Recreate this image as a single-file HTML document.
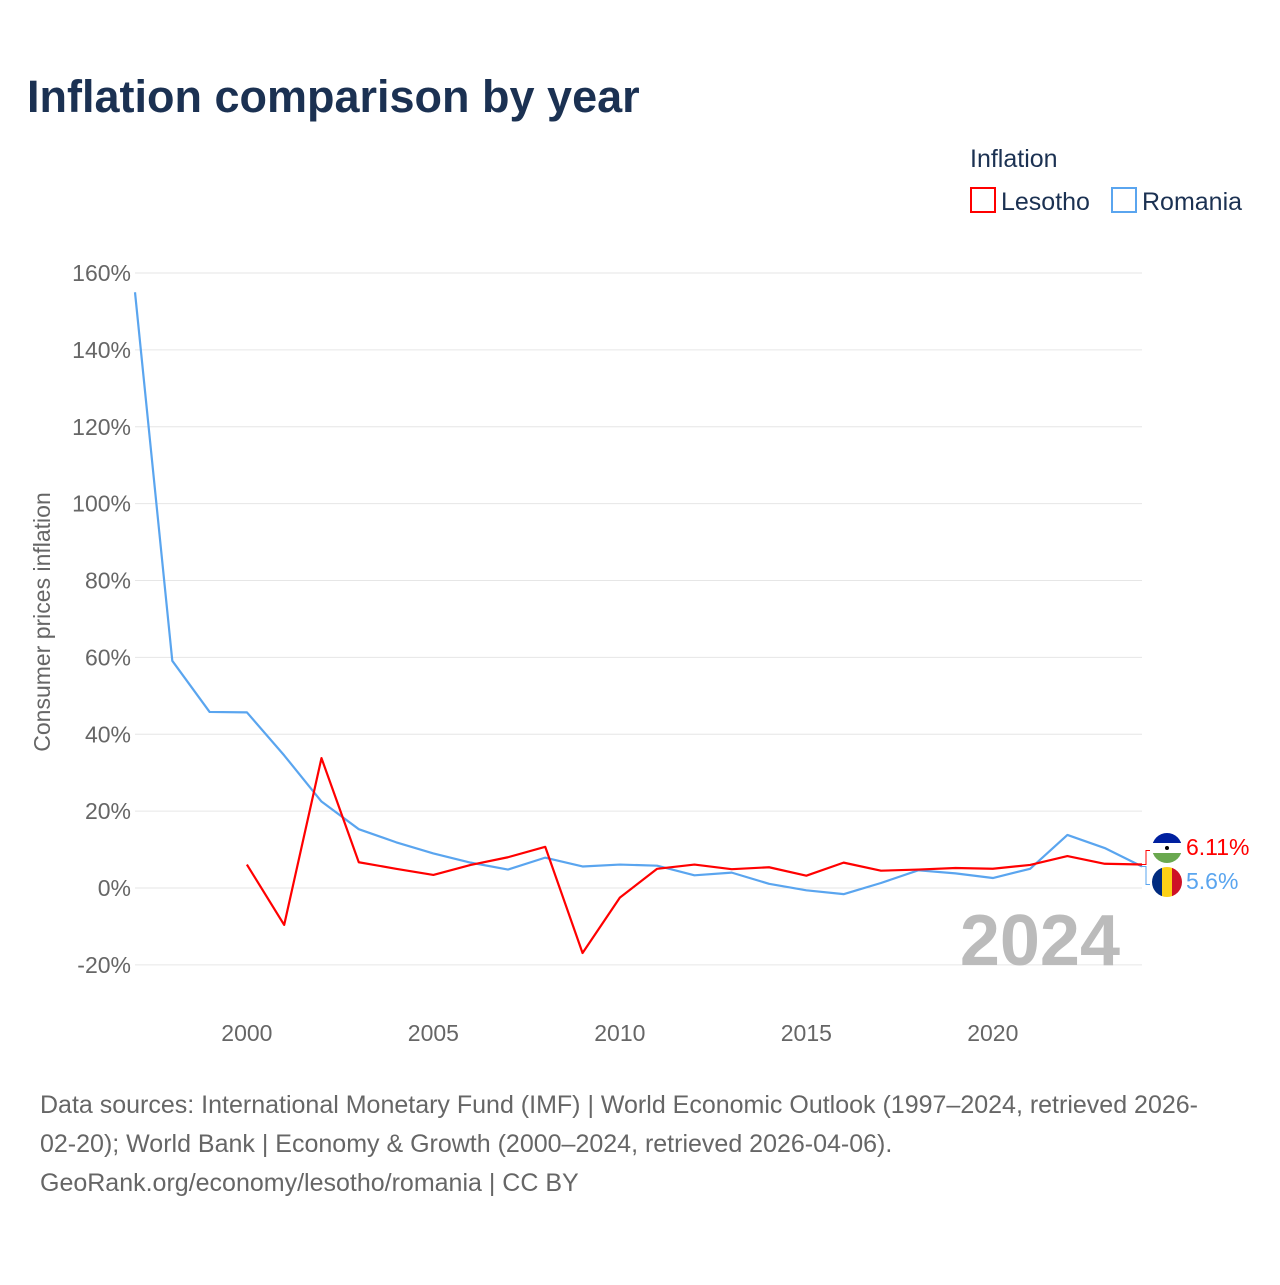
<!DOCTYPE html>
<html><head><meta charset="utf-8"><style>
body{margin:0;background:#fff;font-family:"Liberation Sans",sans-serif;}
svg text{font-family:"Liberation Sans",sans-serif;}
</style></head><body>
<svg id="chart" width="1280" height="1280" viewBox="0 0 1280 1280">
<text x="27" y="112" font-size="45" font-weight="bold" fill="#1b3152">Inflation comparison by year</text>
<text x="970" y="167" font-size="25" fill="#1b3152">Inflation</text>
<g><rect x="971" y="188" width="24" height="24" fill="none" stroke="#f00" stroke-width="2"/><text x="1001" y="210" font-size="25" fill="#1b3152">Lesotho</text></g>
<g><rect x="1112" y="188" width="24" height="24" fill="none" stroke="#5aa5ef" stroke-width="2"/><text x="1142" y="210" font-size="25" fill="#1b3152">Romania</text></g>
<text transform="translate(50,622) rotate(-90)" text-anchor="middle" font-size="23" fill="#666">Consumer prices inflation</text>
<g id="grid"></g><g id="xt"></g>
<text x="1120" y="965" text-anchor="end" font-size="72" font-weight="bold" fill="#bbb">2024</text>
<g id="lines"></g>
<text x="40" y="1113" font-size="25" fill="#666">Data sources: International Monetary Fund (IMF) | World Economic Outlook (1997–2024, retrieved 2026-</text>
<text x="40" y="1152" font-size="25" fill="#666">02-20); World Bank | Economy &amp; Growth (2000–2024, retrieved 2026-04-06).</text>
<text x="40" y="1191" font-size="25" fill="#666">GeoRank.org/economy/lesotho/romania | CC BY</text>
</svg>
<script>
const yTicks=[-20,0,20,40,60,80,100,120,140,160];
const xTicks=[2000,2005,2010,2015,2020];
const romaniaYears=[1997,1998,1999,2000,2001,2002,2003,2004,2005,2006,2007,2008,2009,2010,2011,2012,2013,2014,2015,2016,2017,2018,2019,2020,2021,2022,2023,2024];
const romaniaValues=[155,59.1,45.8,45.7,34.5,22.5,15.3,11.9,9.0,6.6,4.8,7.9,5.6,6.1,5.8,3.3,4.0,1.1,-0.6,-1.6,1.3,4.6,3.8,2.6,5.0,13.8,10.4,5.6];
const lesothoYears=[2000,2001,2002,2003,2004,2005,2006,2007,2008,2009,2010,2011,2012,2013,2014,2015,2016,2017,2018,2019,2020,2021,2022,2023,2024];
const lesothoValues=[6.1,-9.6,33.8,6.7,5.0,3.4,6.0,8.0,10.7,-16.9,-2.5,5.0,6.1,4.9,5.4,3.2,6.6,4.5,4.8,5.2,5.0,6.0,8.3,6.3,6.11];
const NS="http://www.w3.org/2000/svg";
const X=y=>135+(y-1997)*(1142-135)/27;
const Y=v=>888-v*(888-273)/160;
function mk(t,a,p){const e=document.createElementNS(NS,t);for(const k in a)e.setAttribute(k,a[k]);p.appendChild(e);return e;}
const grid=document.getElementById('grid');
yTicks.forEach(v=>{
 const l=mk('line',{x1:135,x2:1142,y1:Y(v),y2:Y(v),stroke:'#e6e6e6','stroke-width':1},grid);
 
 
 const t=mk('text',{x:131,y:Y(v)+8,'text-anchor':'end','font-size':23,fill:'#666'},grid);t.textContent=v+'%';
 
 
});
const xt=document.getElementById('xt');
xTicks.forEach(y=>{
 const t=mk('text',{x:X(y),y:1041,'text-anchor':'middle','font-size':23,fill:'#666'},xt);t.textContent=y;
 
 
});
const lines=document.getElementById('lines');
function series(ys,vs,c,name){
 const p=mk('polyline',{points:ys.map((y,i)=>X(y)+','+Y(vs[i])).join(' '),fill:'none',stroke:c,'stroke-width':2.2,'stroke-linejoin':'round'},lines);
 
 
}
series(romaniaYears,romaniaValues,'#5aa5ef','romania-line');
series(lesothoYears,lesothoValues,'#f00','lesotho-line');
// end labels
const lv=lesothoValues[lesothoValues.length-1], rv=romaniaValues[romaniaValues.length-1];
mk('path',{d:`M1142 ${Y(lv)} h4 v-14 h4`,fill:'none',stroke:'#f00','stroke-width':1},lines);
mk('path',{d:`M1142 ${Y(rv)} h4 v18 h4`,fill:'none',stroke:'#5aa5ef','stroke-width':1},lines);
// flags
const g1=mk('g',{},lines);


mk('clipPath',{id:'c1'},g1).appendChild(document.createElementNS(NS,'circle')).setAttribute('r',15);
document.querySelector('#c1 circle').setAttribute('cx',1167);document.querySelector('#c1 circle').setAttribute('cy',848);
mk('rect',{x:1152,y:833,width:30,height:10,fill:'#00209f','clip-path':'url(#c1)'},g1);
mk('rect',{x:1152,y:843,width:30,height:10,fill:'#fff','clip-path':'url(#c1)'},g1);
mk('rect',{x:1152,y:853,width:30,height:10,fill:'#6aa84f','clip-path':'url(#c1)'},g1);
mk('circle',{cx:1167,cy:848,r:2,fill:'#000'},g1);
const g2=mk('g',{},lines);


const cp=mk('clipPath',{id:'c2'},g2);mk('circle',{cx:1167,cy:882,r:15},cp);
mk('rect',{x:1152,y:867,width:10,height:30,fill:'#002b7f','clip-path':'url(#c2)'},g2);
mk('rect',{x:1162,y:867,width:10,height:30,fill:'#fcd116','clip-path':'url(#c2)'},g2);
mk('rect',{x:1172,y:867,width:10,height:30,fill:'#ce1126','clip-path':'url(#c2)'},g2);
const t1=mk('text',{x:1186,y:855,'font-size':23,fill:'#f00'},lines);t1.textContent=lv+'%';


const t2=mk('text',{x:1186,y:889,'font-size':23,fill:'#5aa5ef'},lines);t2.textContent=rv+'%';


</script>
</body></html>
